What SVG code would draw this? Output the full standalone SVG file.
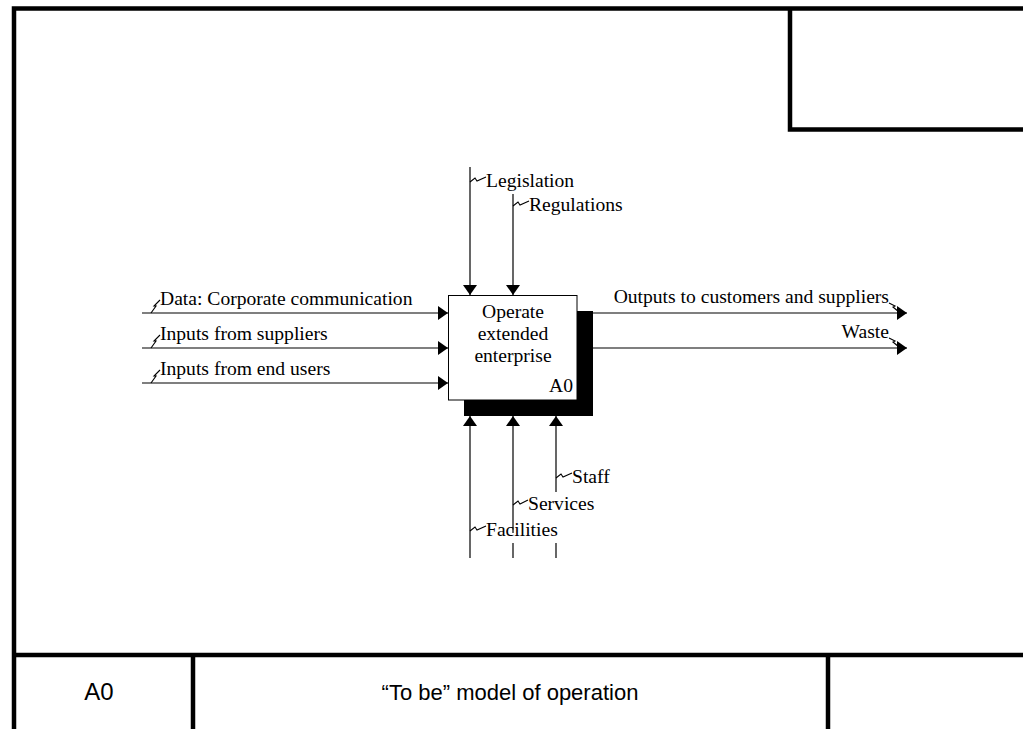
<svg xmlns="http://www.w3.org/2000/svg" width="1023" height="729" viewBox="0 0 1023 729">
  <style>
    .frame { fill: none; stroke: #000; stroke-width: 4.5; }
    .arc { fill: none; stroke: #000; stroke-width: 1.2; }
    .squig { fill: none; stroke: #000; stroke-width: 1.1; }
    .lbl { font-family: "Liberation Serif", "Times New Roman", serif; font-size: 19.6px; fill: #000; }
    .title { font-family: "Liberation Sans", Arial, sans-serif; font-size: 22px; fill: #000; }
    .num { font-family: "Liberation Sans", Arial, sans-serif; font-size: 24px; fill: #000; }
    .box { fill: #fff; stroke: #000; stroke-width: 1; }
  </style>
  <defs>
    <marker id="arrow" viewBox="0 0 10 14" refX="10" refY="7" markerWidth="10" markerHeight="14" markerUnits="userSpaceOnUse" orient="auto">
      <path d="M0 0 L10 7 L0 14 Z" fill="#000"/>
    </marker>
  </defs>

  <rect width="1023" height="729" fill="#fff"/>

  <!-- drawing frame -->
  <g id="frame">
    <path class="frame" d="M1030 8.5 H14 V735"/>
    <path class="frame" d="M790 8.5 V129.5 H1030"/>
    <path class="frame" d="M14 655 H1030"/>
    <path class="frame" d="M193 655 V735"/>
    <path class="frame" d="M828 655 V735"/>
  </g>

  <!-- title block -->
  <g id="title-block">
    <text class="num" x="99" y="700" text-anchor="middle">A0</text>
    <text class="title" x="510" y="700" text-anchor="middle">“To be” model of operation</text>
  </g>

  <!-- activity box -->
  <g id="node-a0">
    <rect x="464" y="311" width="129" height="105" fill="#000"/>
    <rect class="box" x="448.5" y="295.5" width="128.5" height="104.5"/>
    <text class="lbl" x="513" y="318" text-anchor="middle">Operate</text>
    <text class="lbl" x="513" y="340" text-anchor="middle">extended</text>
    <text class="lbl" x="513" y="362" text-anchor="middle">enterprise</text>
    <text class="lbl" x="573" y="392" text-anchor="end">A0</text>
  </g>

  <!-- arrows -->
  <g id="connectors">
    <!-- inputs -->
    <path class="arc" d="M142 313 H448" marker-end="url(#arrow)"/>
    <path class="arc" d="M142 348 H448" marker-end="url(#arrow)"/>
    <path class="arc" d="M142 383 H448" marker-end="url(#arrow)"/>
    <!-- controls -->
    <path class="arc" d="M470 167 V295" marker-end="url(#arrow)"/>
    <path class="arc" d="M513 194 V295" marker-end="url(#arrow)"/>
    <!-- outputs -->
    <path class="arc" d="M593 313 H907" marker-end="url(#arrow)"/>
    <path class="arc" d="M593 348 H907" marker-end="url(#arrow)"/>
    <!-- mechanisms -->
    <path class="arc" d="M470 558 V416" marker-end="url(#arrow)"/>
    <path class="arc" d="M513 533 V416" marker-end="url(#arrow)"/>
    <path class="arc" d="M513 543 V558"/>
    <path class="arc" d="M556 492 V416" marker-end="url(#arrow)"/>
    <path class="arc" d="M556 543 V558"/>
  </g>

  <!-- arrow labels with their squiggle ties -->
  <g id="labels">
    <text class="lbl" x="160" y="305">Data: Corporate communication</text>
    <path class="squig" d="M151 313 L156 306 L154 306 L160 300"/>
    <text class="lbl" x="160" y="340">Inputs from suppliers</text>
    <path class="squig" d="M151 348 L156 341 L154 341 L160 335"/>
    <text class="lbl" x="160" y="375">Inputs from end users</text>
    <path class="squig" d="M151 383 L156 376 L154 376 L160 370"/>

    <text class="lbl" x="486" y="187">Legislation</text>
    <path class="squig" d="M470 182 L475 178 L477 181 L486 177"/>
    <text class="lbl" x="529" y="211">Regulations</text>
    <path class="squig" d="M513 206 L518 202 L520 205 L529 201"/>

    <text class="lbl" x="889" y="303" text-anchor="end">Outputs to customers and suppliers</text>
    <path class="squig" d="M889 303 L895 306 L893 307 L899 312"/>
    <text class="lbl" x="889" y="338" text-anchor="end">Waste</text>
    <path class="squig" d="M889 338 L895 341 L893 342 L899 347"/>

    <text class="lbl" x="572" y="483">Staff</text>
    <path class="squig" d="M556 478 L561 474 L563 477 L572 473"/>
    <text class="lbl" x="528" y="510">Services</text>
    <path class="squig" d="M513 505 L518 501 L520 504 L528 500"/>
    <text class="lbl" x="486" y="536">Facilities</text>
    <path class="squig" d="M470 531 L475 527 L477 530 L486 526"/>
  </g>
</svg>
